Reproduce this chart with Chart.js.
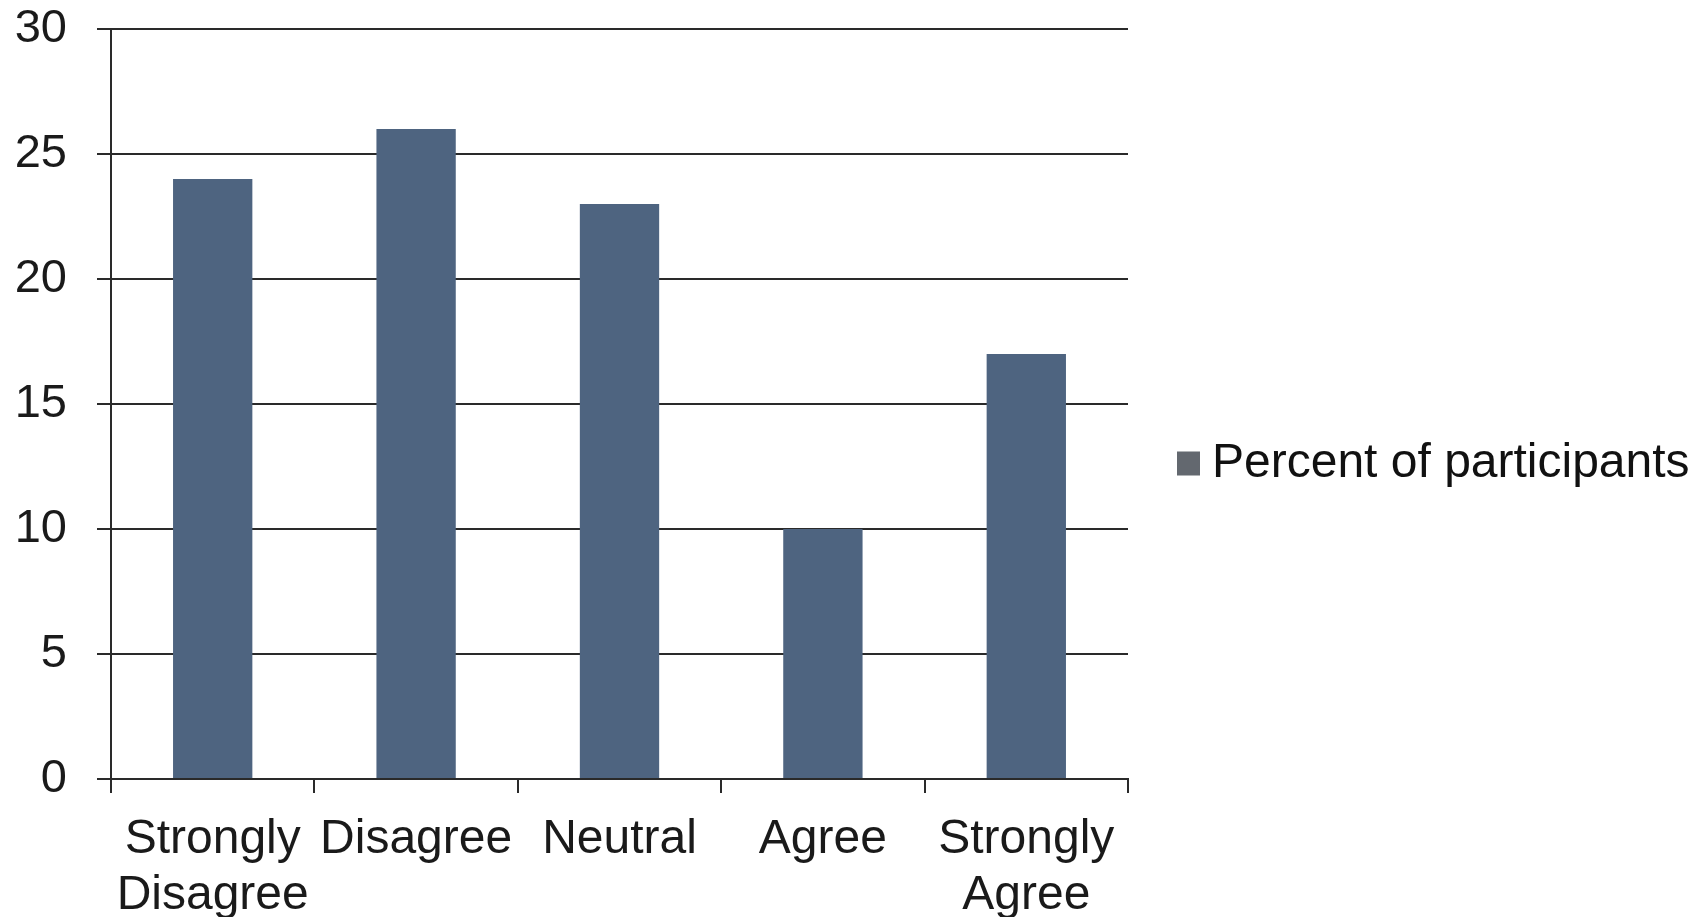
<!DOCTYPE html>
<html>
<head>
<meta charset="utf-8">
<script src="https://cdn.jsdelivr.net/npm/chart.js@4/dist/chart.umd.min.js"></script>
<style>
    html, body { margin: 0; padding: 0; background: #fff; }
    #wrap { width: 1703px; height: 917px; }
</style>
</head>
<body>
<div id="wrap"><canvas id="chart"></canvas></div>
<script>
// Chart data
const categories = [['Strongly', 'Disagree'], 'Disagree', 'Neutral', 'Agree', ['Strongly', 'Agree']];
const percentValues = [24, 26, 23, 10, 17];
const seriesName = 'Percent of participants';
const yTicks = [0, 5, 10, 15, 20, 25, 30];

const barColor = '#4e6480';
const legendBoxColor = '#63686f';
const lineColor = '#2a2a2a';
const fontFamily = '"Liberation Sans", Arial, sans-serif';

Chart.defaults.font.family = fontFamily;
Chart.defaults.color = '#1a1a1a';

// Legend drawn to the right of the plot (built-in one gets squeezed)
const sideLegend = {
    id: 'sideLegend',
    afterDraw(chart) {
        const c = chart.ctx;
        const ds = chart.data.datasets[0];
        const x = chart.chartArea.right + 49;
        const y = chart.height / 2 + 5;
        c.save();
        c.fillStyle = legendBoxColor;
        c.fillRect(x, y - 12, 23, 24);
        c.fillStyle = '#111';
        c.font = `48px ${fontFamily}`;
        c.textBaseline = 'middle';
        c.textAlign = 'left';
        c.fillText(ds.label, x + 35, y);
        c.restore();
    }
};

const ctx = document.getElementById('chart').getContext('2d');
const chart = new Chart(ctx, {
    type: 'bar',
    data: {
        labels: categories,
        datasets: [{
            label: seriesName,
            data: percentValues,
            backgroundColor: barColor,
            borderWidth: 0,
            categoryPercentage: 1,
            barPercentage: 0.39
        }]
    },
    plugins: [sideLegend],
    options: {
        responsive: true,
        maintainAspectRatio: false,
        animation: false,
        layout: {
            padding: { left: 0, right: 575, top: 29, bottom: 0 }
        },
        plugins: {
            tooltip: { enabled: false },
            legend: { display: false }
        },
        scales: {
            x: {
                afterFit: (scale) => {
                    scale.height = 138;
                    scale.paddingLeft = 0;
                    scale.paddingRight = 0;
                },
                grid: {
                    offset: true,
                    drawOnChartArea: false,
                    drawTicks: true,
                    tickLength: 14,
                    color: lineColor,
                    lineWidth: 2
                },
                border: { color: lineColor, width: 2 },
                ticks: {
                    font: { size: 48, lineHeight: 1.17 },
                    color: '#1a1a1a',
                    padding: 19,
                    maxRotation: 0,
                    autoSkip: false
                }
            },
            y: {
                min: yTicks[0],
                max: yTicks[yTicks.length - 1],
                afterBuildTicks: (scale) => {
                    scale.ticks = yTicks.map(v => ({ value: v }));
                },
                afterFit: (scale) => {
                    scale.width = 111;
                    scale.paddingTop = 0;
                    scale.paddingBottom = 0;
                },
                grid: {
                    drawTicks: true,
                    tickLength: 14,
                    color: lineColor,
                    lineWidth: 2
                },
                border: { color: lineColor, width: 2 },
                ticks: {
                    font: { size: 47 },
                    color: '#1a1a1a',
                    padding: 30
                }
            }
        }
    }
});
</script>
</body>
</html>
